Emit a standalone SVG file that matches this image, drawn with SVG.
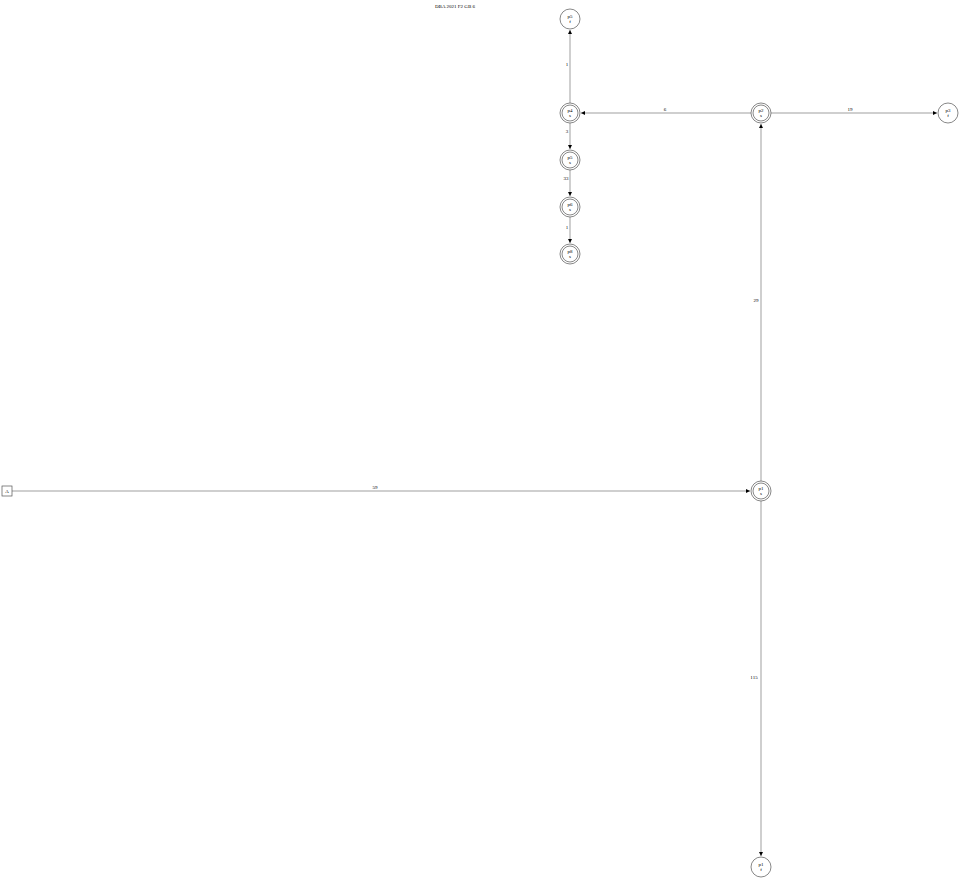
<svg xmlns="http://www.w3.org/2000/svg" width="960" height="881" viewBox="0 0 960 881">
<style>
text{font-family:"Liberation Serif",serif;font-size:5px;fill:#000;text-anchor:middle}
.n{fill:none;stroke:#555;stroke-width:0.7}
.e{fill:none;stroke:#777;stroke-width:0.7}
</style>
<defs>
<marker id="a" markerWidth="5" markerHeight="4" refX="4" refY="2" orient="auto" markerUnits="userSpaceOnUse">
<path d="M0,0 L4,2 L0,4 Z" fill="#000"/>
</marker>
</defs>
<rect width="960" height="881" fill="#fff"/>
<text x="455" y="8">DBA 2021 F2 GB 6</text>
<g id="edges">
<path class="e" d="M12,491 H750" marker-end="url(#a)"/><text x="375" y="489">59</text>
<path class="e" d="M761,481 V124" marker-end="url(#a)"/><text x="756" y="302">29</text>
<path class="e" d="M761,501 V856" marker-end="url(#a)"/><text x="754" y="679">115</text>
<path class="e" d="M751,113 H581" marker-end="url(#a)"/><text x="665" y="111">6</text>
<path class="e" d="M771,113 H937" marker-end="url(#a)"/><text x="850" y="111">19</text>
<path class="e" d="M570,103 V30" marker-end="url(#a)"/><text x="567" y="66">1</text>
<path class="e" d="M570,123 V149" marker-end="url(#a)"/><text x="567" y="133">3</text>
<path class="e" d="M570,170 V196" marker-end="url(#a)"/><text x="566" y="180">33</text>
<path class="e" d="M570,217 V243" marker-end="url(#a)"/><text x="567" y="229">1</text>
</g>
<g id="A"><rect class="n" x="2" y="486" width="10" height="10"/><text x="7" y="493">A</text></g>
<g id="n_top"><circle class="n" cx="570" cy="19" r="10"/><text x="570" y="18">p5</text><text x="570" y="23">f</text></g>
<g id="n_p4"><circle class="n" cx="570" cy="113" r="10"/><circle class="n" cx="570" cy="113" r="8"/><text x="570" y="112">p4</text><text x="570" y="117">s</text></g>
<g id="n_p5"><circle class="n" cx="570" cy="160" r="10"/><circle class="n" cx="570" cy="160" r="8"/><text x="570" y="159">p5</text><text x="570" y="164">s</text></g>
<g id="n_p6"><circle class="n" cx="570" cy="207" r="10"/><circle class="n" cx="570" cy="207" r="8"/><text x="570" y="206">p6</text><text x="570" y="211">s</text></g>
<g id="n_p8"><circle class="n" cx="570" cy="254" r="10"/><circle class="n" cx="570" cy="254" r="8"/><text x="570" y="253">p8</text><text x="570" y="258">s</text></g>
<g id="n_p2"><circle class="n" cx="761" cy="113" r="10"/><circle class="n" cx="761" cy="113" r="8"/><text x="761" y="112">p2</text><text x="761" y="117">s</text></g>
<g id="n_right"><circle class="n" cx="948" cy="113" r="10"/><text x="948" y="112">p3</text><text x="948" y="117">f</text></g>
<g id="n_p1"><circle class="n" cx="761" cy="491" r="10"/><circle class="n" cx="761" cy="491" r="8"/><text x="761" y="490">p1</text><text x="761" y="495">s</text></g>
<g id="n_bottom"><circle class="n" cx="761" cy="867" r="10"/><text x="761" y="866">p1</text><text x="761" y="871">f</text></g>
</svg>
